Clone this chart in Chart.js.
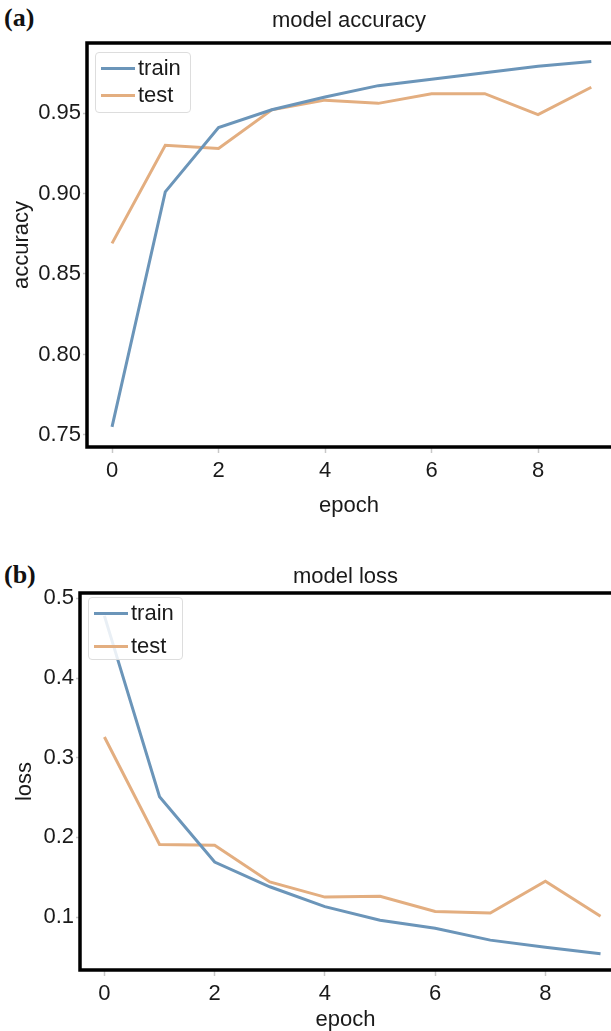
<!DOCTYPE html>
<html>
<head>
<meta charset="utf-8">
<script src="https://cdn.jsdelivr.net/npm/chart.js@4/dist/chart.umd.min.js"></script>
<style>
  html, body { margin: 0; padding: 0; background: #fff; }
  body { width: 611px; height: 1031px; overflow: hidden; position: relative; font-family: "Liberation Sans", Arial, sans-serif; }
  .panel { position: absolute; left: 0; width: 611px; }
  .panel canvas { display: block; }
  .tag { position: absolute; font-family: "Liberation Serif", "Times New Roman", serif; font-weight: bold; font-size: 26px; color: #111; line-height: 1; }
  .legend { position: absolute; border: 1.5px solid #ddd; border-radius: 4px; background: rgba(255,255,255,0.85); box-sizing: border-box; }
  .legend .row { position: absolute; left: 0; height: 26px; width: 100%; }
  .legend .swatch { position: absolute; left: 5px; top: 12px; width: 34px; height: 3px; }
  .legend .txt { position: absolute; left: 42px; top: 0; font-size: 22px; line-height: 26px; color: #1a1a1a; }
</style>
</head>
<body>
<div class="tag" style="left:4px; top:5px;">(a)</div>
<div class="tag" style="left:4px; top:562px;">(b)</div>
<div class="panel" style="top:0; height:525px;"><canvas id="chartA" width="611" height="525"></canvas></div>
<div class="panel" style="top:550px; height:483px;"><canvas id="chartB" width="611" height="483"></canvas></div>
<div class="legend" id="legendA" style="left:95px; top:52px; width:96px; height:61px;"></div>
<div class="legend" id="legendB" style="left:88px; top:597px; width:95px; height:63px;"></div>
<script>
// ---- data ----
const epochs = [0, 1, 2, 3, 4, 5, 6, 7, 8, 9];
const seriesNames = ['train', 'test'];
const seriesColors = ['#6b95b9', '#e3ae80'];
const accTrain = [0.755, 0.901, 0.941, 0.952, 0.960, 0.967, 0.971, 0.975, 0.979, 0.982];
const accTest  = [0.869, 0.930, 0.928, 0.952, 0.958, 0.956, 0.962, 0.962, 0.949, 0.966];
const lossTrain = [0.478, 0.251, 0.169, 0.138, 0.113, 0.096, 0.086, 0.071, 0.062, 0.054];
const lossTest  = [0.326, 0.191, 0.190, 0.144, 0.125, 0.126, 0.107, 0.105, 0.145, 0.101];
const xTicks = [0, 2, 4, 6, 8];
const accTicks = [0.75, 0.80, 0.85, 0.90, 0.95];
const lossTicks = [0.1, 0.2, 0.3, 0.4, 0.5];

Chart.defaults.font.family = '"Liberation Sans", Arial, sans-serif';
Chart.defaults.font.size = 22;
Chart.defaults.color = '#1a1a1a';

const frame = {
  id: 'frame',
  afterDraw(chart) {
    const {ctx, chartArea: a} = chart;
    ctx.save();
    ctx.strokeStyle = '#000';
    ctx.lineWidth = 3.5;
    ctx.beginPath();
    ctx.moveTo(chart.width + 5, a.top);
    ctx.lineTo(a.left, a.top);
    ctx.lineTo(a.left, a.bottom);
    ctx.lineTo(chart.width + 5, a.bottom);
    ctx.stroke();
    ctx.restore();
  }
};

function pts(ys) { return epochs.map((e, i) => ({x: e, y: ys[i]})); }

function build(id, o) {
  const datasets = [o.train, o.test].map((ys, i) => ({
    label: seriesNames[i],
    data: pts(ys),
    borderColor: seriesColors[i],
    borderWidth: 3,
    pointRadius: 0,
    tension: 0,
    fill: false
  }));
  return new Chart(document.getElementById(id), {
    type: 'line',
    data: { datasets },
    plugins: [frame],
    options: {
      responsive: false,
      animation: false,
      events: [],
      layout: { padding: { left: 0, right: 0, top: 0, bottom: 0 } },
      plugins: {
        legend: { display: false },
        tooltip: { enabled: false },
        title: {
          display: true, text: o.title, fullSize: false,
          font: { size: 22, weight: 'normal' }, color: '#1a1a1a',
          padding: o.titlePad
        }
      },
      scales: {
        x: {
          type: 'linear', min: o.xMin, max: o.xMax,
          afterBuildTicks: s => { s.ticks = xTicks.map(v => ({value: v})); },
          afterFit: s => { s.height = o.xHeight; },
          ticks: { padding: 5, maxRotation: 0, autoSkip: false, callback: v => String(v) },
          grid: { drawOnChartArea: false, drawTicks: true, tickLength: 6, tickColor: '#c8c8c8', tickWidth: 1.5 },
          border: { display: false },
          title: { display: true, text: 'epoch', font: { size: 22 }, padding: o.xTitlePad }
        },
        y: {
          type: 'linear', min: o.yMin, max: o.yMax,
          afterBuildTicks: s => { s.ticks = o.yTicks.map(v => ({value: v})); },
          afterFit: s => { s.width = o.yWidth; },
          ticks: { padding: 2, callback: v => v.toFixed(o.dec) },
          grid: { drawOnChartArea: false, drawTicks: true, tickLength: 4, tickColor: '#c8c8c8', tickWidth: 1.5 },
          border: { display: false },
          title: { display: true, text: o.yLabel, font: { size: 22 }, padding: { top: o.yTitlePad, bottom: 0 } }
        }
      }
    }
  });
}

build('chartA', {
  title: 'model accuracy', titlePad: { top: 7.8, bottom: 8.8 },
  train: accTrain, test: accTest,
  xMin: -0.47, xMax: 9.37, xHeight: 78, xTitlePad: { top: 0, bottom: 5.8 },
  yMin: 0.7425, yMax: 0.9935, yTicks: accTicks, dec: 2, yWidth: 87,
  yLabel: 'accuracy', yTitlePad: 8.8
});
build('chartB', {
  title: 'model loss', titlePad: { top: 13.8, bottom: 2.8 },
  train: lossTrain, test: lossTest,
  xMin: -0.443, xMax: 9.19, xHeight: 63, xTitlePad: { top: 0, bottom: 0 },
  yMin: 0.0335, yMax: 0.5067, yTicks: lossTicks, dec: 1, yWidth: 80,
  yLabel: 'loss', yTitlePad: 11.8
});

function legend(id, rowTops) {
  const box = document.getElementById(id);
  seriesNames.forEach((name, i) => {
    const row = document.createElement('div');
    row.className = 'row';
    row.style.top = rowTops[i] + 'px';
    const sw = document.createElement('div');
    sw.className = 'swatch';
    sw.style.background = seriesColors[i];
    const t = document.createElement('div');
    t.className = 'txt';
    t.textContent = name;
    row.appendChild(sw); row.appendChild(t);
    box.appendChild(row);
  });
}
legend('legendA', [2, 29]);
legend('legendB', [2, 35]);
</script>
</body>
</html>
